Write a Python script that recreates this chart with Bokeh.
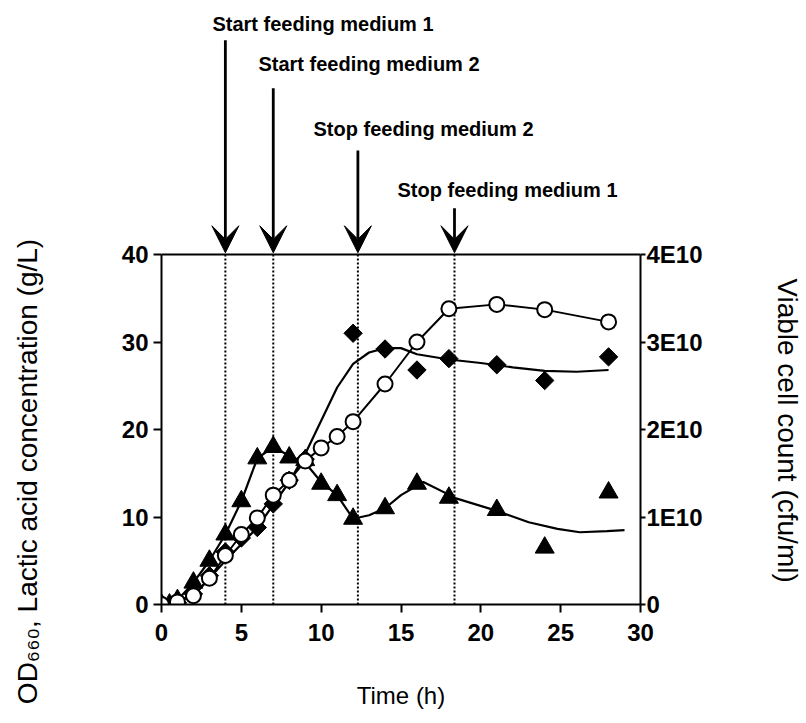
import numpy as np
from bokeh.plotting import figure
from bokeh.layouts import row, column
from bokeh.models import (Range1d, LinearAxis, FixedTicker, Label, Arrow, VeeHead, Span)
from bokeh.embed import file_html
from bokeh.resources import INLINE

# Sampling times (h) and measured values
t_lactic = [0, 1, 2, 3, 4, 5, 6, 7, 8, 9, 10, 11, 12, 14, 16, 18, 21, 24, 28]
lactic = [0, 0.3, 1.0, 3.0, 5.6, 8.0, 9.9, 12.5, 14.2, 16.4, 17.9, 19.2, 20.9, 25.2, 30.0, 33.8, 34.3, 33.7, 32.3]

t_od = [0, 1, 2, 3, 4, 5, 6, 7, 8, 9, 12, 14, 16, 18, 21, 24, 28]
od = [0, 0.2, 1.2, 3.3, 6.0, 7.6, 8.8, 11.5, 14.2, 16.6, 31.0, 29.2, 26.8, 28.1, 27.4, 25.6, 28.3]

t_cells = [0, 0.5, 1, 2, 3, 4, 5, 6, 7, 8, 9, 10, 11, 12, 14, 16, 18, 21, 24, 28]
cells = [0, 0, 0.05e10, 0.25e10, 0.5e10, 0.8e10, 1.18e10, 1.67e10, 1.8e10, 1.68e10, 1.65e10,
         1.38e10, 1.25e10, 0.98e10, 1.1e10, 1.38e10, 1.22e10, 1.08e10, 0.65e10, 1.28e10]

# Trend curves
t_od_fit = [0, 2, 4, 6, 8, 9, 10, 11, 12, 13, 14, 15, 16, 18, 20, 22, 24, 26, 28]
od_fit = [0, 1.0, 5.0, 8.8, 14.0, 17.2, 21.0, 24.8, 27.5, 28.8, 29.3, 29.3, 28.6, 28.0, 27.6, 27.1, 26.7, 26.6, 26.8]

t_cells_fit = [0, 1, 2, 3, 4, 5, 6, 7, 8, 9, 10, 11, 12, 13, 14, 15, 16.4, 18.5, 21, 23, 24.8, 26.2, 27.9, 29]
cells_fit = [0, 0.05e10, 0.25e10, 0.5e10, 0.8e10, 1.18e10, 1.67e10, 1.8e10, 1.7e10, 1.62e10, 1.4e10,
             1.25e10, 0.98e10, 1.02e10, 1.1e10, 1.25e10, 1.4e10, 1.21e10, 1.07e10, 0.94e10, 0.865e10,
             0.826e10, 0.838e10, 0.85e10]

# Feeding events
event_times = [4.0, 7.0, 12.3, 18.35]
event_texts = ["Start feeding medium 1", "Start feeding medium  2",
               "Stop feeding medium 2", "Stop feeding medium 1"]
event_arrow_tops = [64.5, 59.0, 51.9, 45.3]
event_text_x = [3.19, 6.07, 9.52, 14.78]
event_text_y = [66.4, 61.8, 54.4, 47.4]

x_ticks = [0, 5, 10, 15, 20, 25, 30]
y_ticks = [0, 10, 20, 30, 40]
cell_ticks = [0, 1e10, 2e10, 3e10, 4e10]
cell_tick_labels = ["0", "1E10", "2E10", "3E10", "4E10"]

left_title = "OD₆₆₀, Lactic acid concentration (g/L)"
right_title = "Viable cell count (cfu/ml)"

FONT = "Liberation Sans"
W, H = 806, 723
LEFT_W, RIGHT_W = 60, 40
MID_W = W - LEFT_W - RIGHT_W
Y_MAX = 40.0                 # top of the plotted scale
PX_PER_UNIT = 350 / Y_MAX    # plot height of 350 px for 0..40
Y_TOP = 604 / PX_PER_UNIT    # frame reaches the top of the page to hold the event arrows
CELL_MAX = 4e10

p = figure(width=MID_W, height=H, output_backend="svg", toolbar_location=None,
           x_range=Range1d(0, 30), y_range=Range1d(0, Y_TOP),
           min_border_left=161 - LEFT_W, min_border_right=166 - RIGHT_W,
           min_border_top=0, min_border_bottom=119)
p.extra_y_ranges = {"cells": Range1d(0, CELL_MAX * Y_TOP / Y_MAX)}
p.grid.visible = False
p.outline_line_color = None
p.background_fill_color = "white"
p.border_fill_color = "white"

def style_axis(ax):
    ax.axis_line_width = 2
    ax.axis_line_color = "black"
    ax.major_tick_line_width = 2
    ax.major_tick_in = 0
    ax.major_tick_out = 8
    ax.minor_tick_line_color = None
    ax.major_label_text_font = FONT
    ax.major_label_text_font_style = "bold"
    ax.major_label_text_font_size = "24px"
    ax.major_label_text_color = "black"
    ax.axis_label_text_font = FONT
    ax.axis_label_text_font_style = "normal"
    ax.axis_label_text_font_size = "24px"
    ax.axis_label_text_color = "black"

xa = p.xaxis[0]
style_axis(xa)
xa.ticker = FixedTicker(ticks=x_ticks)
xa.axis_label = "Time (h)"
xa.axis_label_standoff = 38
xa.major_label_standoff = 11

ya = p.yaxis[0]
style_axis(ya)
ya.ticker = FixedTicker(ticks=y_ticks)
ya.bounds = (0, Y_MAX)
ya.major_label_standoff = 5

ra = LinearAxis(y_range_name="cells")
style_axis(ra)
ra.ticker = FixedTicker(ticks=cell_ticks)
ra.bounds = (0, CELL_MAX)
ra.major_label_overrides = {t: s for t, s in zip(cell_ticks, cell_tick_labels)}
ra.major_tick_out = 5
ra.major_label_standoff = 1
p.add_layout(ra, "right")

# Upper edge of the plotting box
p.add_layout(Span(location=Y_MAX, dimension="width", line_color="black", line_width=2))

# Dotted lines at the feeding events, up to the top of the box
p.segment(x0=event_times, y0=[0] * len(event_times), x1=event_times,
          y1=[Y_MAX] * len(event_times), line_color="black", line_width=2, line_dash="2 2")

# Event arrows and captions above the box
for t, ytop in zip(event_times, event_arrow_tops):
    p.add_layout(Arrow(x_start=t, y_start=ytop, x_end=t, y_end=Y_MAX + 0.2, line_width=2.8,
                       line_color="black",
                       end=VeeHead(size=27, fill_color="black", line_color="black")))
for tx, ty, txt in zip(event_text_x, event_text_y, event_texts):
    p.add_layout(Label(x=tx, y=ty, text=txt, text_baseline="middle", text_align="left",
                       text_font=FONT, text_font_style="bold", text_font_size="20px",
                       text_color="black"))

# Curves
p.line(t_lactic, lactic, line_color="black", line_width=2)
p.line(t_od_fit, od_fit, line_color="black", line_width=2.2)
p.line(t_cells_fit, cells_fit, line_color="black", line_width=2.2, y_range_name="cells")

# Markers
p.scatter(t_cells, cells, marker="triangle", size=19, fill_color="black", line_color="black",
          y_range_name="cells")
p.scatter(t_od, od, marker="square", angle=np.pi / 4, size=13, fill_color="black", line_color="black")
p.scatter(t_lactic, lactic, marker="circle", size=15, fill_color="white", line_color="black",
          line_width=2)

# Side strips holding the two vertical axis titles (pixel coordinates, origin bottom-left)
def side_strip(width, x, y, text, angle):
    f = figure(width=width, height=H, output_backend="svg", toolbar_location=None,
               x_range=Range1d(0, width), y_range=Range1d(0, H),
               x_axis_type=None, y_axis_type=None, min_border=0)
    f.grid.visible = False
    f.outline_line_color = None
    f.background_fill_color = "white"
    f.border_fill_color = "white"
    f.add_layout(Label(x=x, y=y, text=text, angle=angle, text_align="center",
                       text_baseline="middle", text_font=FONT, text_font_size="28px",
                       text_color="black"))
    return f

left = side_strip(LEFT_W, 27, H - 471, left_title, np.pi / 2)
right = side_strip(RIGHT_W, 21, H - 430, right_title, -np.pi / 2)

# Wrapping the chart in its own column keeps the strips' frames independent of it
layout = row(left, column(p, spacing=0), right, spacing=0)
open("out.html", "w").write(file_html(layout, INLINE))
